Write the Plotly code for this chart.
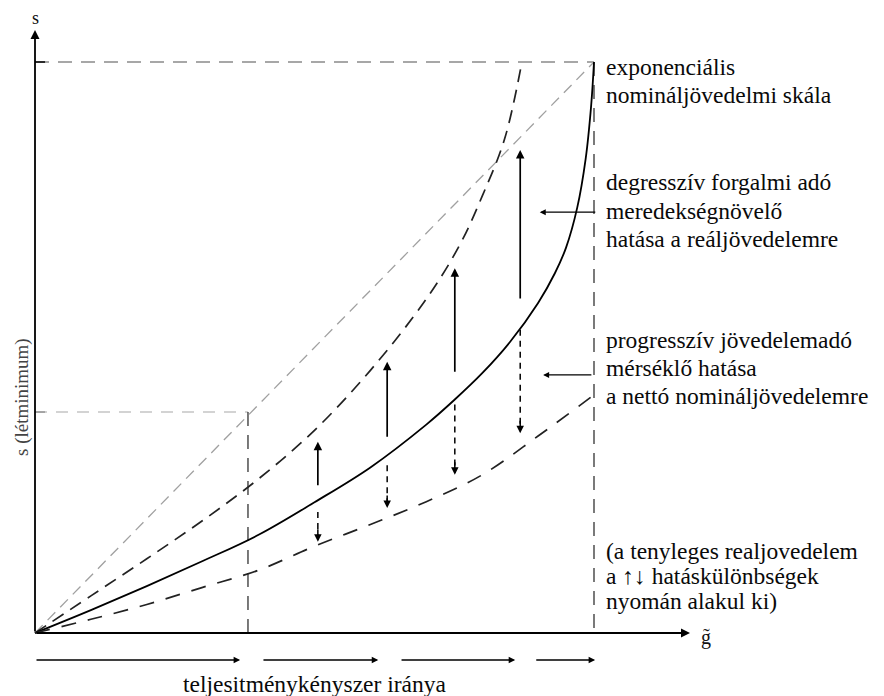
import plotly.graph_objects as go

# ---------------- data (g = performance axis, s = income axis; 1.0 = frame) -------------
upper_g = [0, 0.1, 0.2, 0.3, 0.4, 0.5, 0.6, 0.7, 0.76, 0.8, 0.84, 0.871]
upper_s = [0, 0.065, 0.13, 0.197, 0.27, 0.355, 0.46, 0.585, 0.68, 0.765, 0.865, 1.0]

solid_g = [0, 0.1, 0.2, 0.3, 0.4, 0.5, 0.6, 0.7, 0.75, 0.8, 0.85, 0.9, 0.93, 0.95, 0.97, 0.985, 0.995, 1.0]
solid_s = [0, 0.04, 0.082, 0.126, 0.172, 0.229, 0.29, 0.365, 0.408, 0.455, 0.51, 0.578, 0.63, 0.675, 0.745, 0.83, 0.925, 1.0]

lower_g = [0, 0.1, 0.2, 0.3, 0.4, 0.5, 0.6, 0.7, 0.8, 0.9, 1.0]
lower_s = [0, 0.024, 0.05, 0.08, 0.11, 0.152, 0.19, 0.23, 0.277, 0.345, 0.417]

diag_g = [0, 1.0]
diag_s = [0, 1.0]

# létminimum reference point
min_g = 0.381
min_s = 0.387

# vertical effect arrows
arrow_g = [0.506, 0.630, 0.751, 0.868]
up_from = [0.256, 0.341, 0.455, 0.583]
up_to = [0.335, 0.475, 0.639, 0.846]
down_from = [0.212, 0.294, 0.400, 0.531]
down_to = [0.160, 0.219, 0.277, 0.350]

# horizontal pointer arrows
point_s = [0.737, 0.452]
point_from = [1.005, 0.998]
point_to = [0.903, 0.909]

# bottom direction arrows
bottom_from = [0.0, 0.406, 0.653, 0.894]
bottom_to = [0.367, 0.614, 0.859, 1.002]

text_blocks = [
    ["exponenciális", "nomináljövedelmi skála"],
    ["degresszív forgalmi adó", "meredekségnövelő", "hatása a reáljövedelemre"],
    ["progresszív jövedelemadó", "mérséklő hatása", "a nettó nomináljövedelemre"],
    ["(a tenyleges realjovedelem", "a ↑↓ hatáskülönbségek", "nyomán alakul ki)"],
]

x_label = "g\u0303"
y_label = "s"
y_title = "s (létminimum)"
bottom_label = "teljesitménykényszer iránya"

# ---------------- layout constants (page pixels) -----------------------------------------
W, H = 884, 696
OFF = 8               # page body margin offset
X0, XW = 35, 559      # page pixel of g=0 and pixel length of g=1
Y0, YH = 633, 571     # page pixel of s=0 and pixel length of s=1


def gx(px):
    return (px - X0) / XW


def sy(py):
    return (Y0 - py) / YH


xr = [gx(OFF), gx(W + OFF)]
yr = [sy(H + OFF), sy(OFF)]
FONT = "Liberation Serif"
FS = 23.5
block_lines_py = [[67, 95], [182, 211, 239], [340, 368, 396], [551, 576, 601]]

fig = go.Figure()


def line(xs, ys, color="black", width=1.5, dash=None, shape="linear"):
    fig.add_trace(go.Scatter(x=xs, y=ys, mode="lines", hoverinfo="skip",
                             line=dict(color=color, width=width, dash=dash, shape=shape)))


# reference frame lines
line([0, 1.0], [1.0, 1.0], color="#8a8a8a", width=1.3, dash="14px,9px")
line([1.0, 1.0], [1.0, 0], color="#333333", width=1.3, dash="14px,9px")
line([0, min_g], [min_s, min_s], color="#a8a8a8", width=1.2, dash="12px,9px")
line([min_g, min_g], [min_s, 0], color="#333333", width=1.3, dash="14px,9px")

# curves
line(diag_g, diag_s, color="#a0a0a0", width=1.3, dash="11px,7px")
line(upper_g, upper_s, color="#222222", width=1.7, dash="13px,8px", shape="spline")
line(solid_g, solid_s, color="black", width=1.8, shape="spline")
line(lower_g, lower_s, color="#222222", width=1.7, dash="15px,12px", shape="spline")

ann = []


def arrow(x0, y0, x1, y1, width=1.6, head=2, size=1.0):
    ann.append(dict(x=x1, y=y1, ax=x0, ay=y0, xref="x", yref="y", axref="x", ayref="y",
                    text="", showarrow=True, arrowhead=head, arrowsize=size,
                    arrowwidth=width, arrowcolor="black"))


# axes
arrow(0, 0, 0, sy(30), width=1.8)
arrow(0, 0, gx(690), 0, width=1.8)
# ticks on s axis
line([0, 0.018], [1.0, 1.0], color="black", width=1.5)
line([0, 0.018], [min_s, min_s], color="#777777", width=1.0)

# vertical effect arrows
for g, a, b, c, d in zip(arrow_g, up_from, up_to, down_from, down_to):
    arrow(g, a, g, b, width=1.7)
    line([g, g], [c, d + 0.012], color="black", width=1.5, dash="6px,5px")
    ann.append(dict(x=g, y=d, ax=0, ay=-14, xref="x", yref="y", text="", showarrow=True,
                    arrowhead=2, arrowsize=1.0, arrowwidth=1.5, arrowcolor="black"))

# horizontal pointers
for s, a, b in zip(point_s, point_from, point_to):
    arrow(a, s, b, s, width=1.2)

# bottom arrows
for a, b in zip(bottom_from, bottom_to):
    arrow(a, sy(660), b, sy(660), width=1.3)

# texts
tx = gx(604)
for lines_, pys in zip(text_blocks, block_lines_py):
    for t, py in zip(lines_, pys):
        ann.append(dict(x=tx, y=sy(py), xref="x", yref="y", text=t, showarrow=False,
                        xanchor="left", yanchor="middle",
                        font=dict(family=FONT, size=FS, color="#0a0a0a")))

ann.append(dict(x=0, y=sy(18), xref="x", yref="y", text=y_label, showarrow=False,
                xanchor="center", yanchor="middle", font=dict(family=FONT, size=18, color="#111")))
ann.append(dict(x=gx(706), y=sy(637), xref="x", yref="y", text=x_label,
                showarrow=False, xanchor="center", yanchor="middle",
                font=dict(family=FONT, size=20, color="#111")))
ann.append(dict(x=gx(22), y=sy(397), xref="x", yref="y", text=y_title,
                showarrow=False, textangle=-90, xanchor="center", yanchor="middle",
                font=dict(family=FONT, size=19, color="#444")))
ann.append(dict(x=gx(315), y=sy(684), xref="x", yref="y", text=bottom_label,
                showarrow=False, xanchor="center", yanchor="middle",
                font=dict(family=FONT, size=FS, color="#0a0a0a")))

fig.update_layout(
    width=W, height=H, margin=dict(l=0, r=0, t=0, b=0, autoexpand=False),
    paper_bgcolor="white", plot_bgcolor="white", showlegend=False,
    xaxis=dict(range=xr, visible=False, fixedrange=True),
    yaxis=dict(range=yr, visible=False, fixedrange=True),
    annotations=ann,
)

fig.write_html("out.html")
